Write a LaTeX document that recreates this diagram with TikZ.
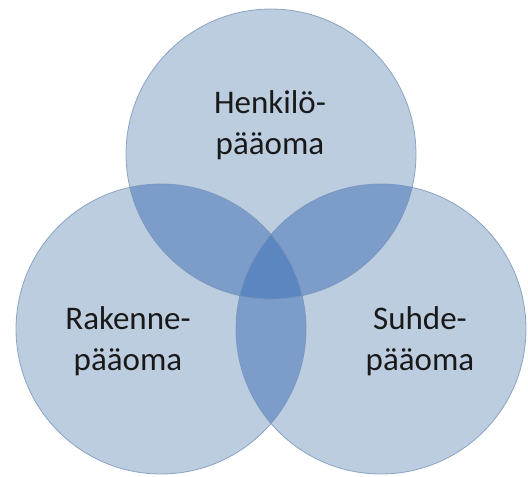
\documentclass[tikz,border=0pt]{standalone}
\usepackage{fontspec}
\setmainfont{Carlito}
\definecolor{vsingle}{RGB}{189,205,224}
\definecolor{vdouble}{RGB}{124,156,202}
\definecolor{vtriple}{RGB}{92,134,192}
\definecolor{vrim}{RGB}{120,148,185}
\definecolor{vtxt}{RGB}{25,25,25}
\begin{document}
\begin{tikzpicture}[x=1pt,y=-1pt,
  lbl/.style={font=\fontsize{33}{41}\selectfont, text=vtxt, align=center, inner sep=0pt},
  rimline/.style={draw=vrim, line width=0.8pt, draw opacity=0.8}]
\useasboundingbox (0,0) rectangle (528,477);
\coordinate (T) at (271,154);
\coordinate (L) at (161,329);
\coordinate (R) at (381,329);
\def\rad{145}
% single regions
\fill[vsingle] (T) circle (\rad);
\fill[vsingle] (L) circle (\rad);
\fill[vsingle] (R) circle (\rad);
% double overlaps
\begin{scope}
\clip (T) circle (\rad);
\fill[vdouble] (L) circle (\rad);
\fill[vdouble] (R) circle (\rad);
\end{scope}
\begin{scope}
\clip (L) circle (\rad);
\fill[vdouble] (R) circle (\rad);
\end{scope}
% triple overlap
\begin{scope}
\clip (T) circle (\rad);
\clip (L) circle (\rad);
\fill[vtriple] (R) circle (\rad);
\end{scope}
% outlines
\draw[rimline] (T) circle (\rad);
\draw[rimline] (L) circle (\rad);
\draw[rimline] (R) circle (\rad);
% labels
\node[lbl] (henk) at (270,125) {Henkilö-\\pääoma};
\node[lbl] (rak) at (128,341) {Rakenne-\\pääoma};
\node[lbl] (suh) at (420,341) {Suhde-\\pääoma};
\end{tikzpicture}
\end{document}
